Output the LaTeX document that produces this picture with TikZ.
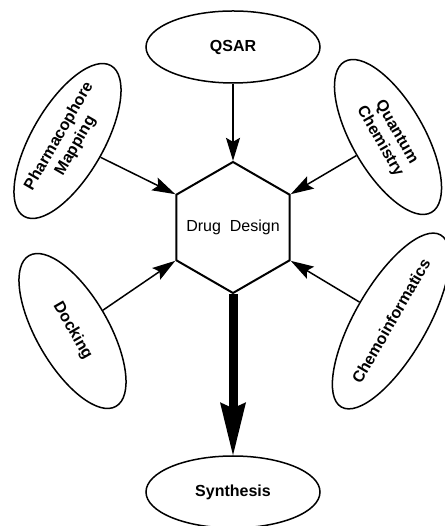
\documentclass[tikz,border=0pt]{standalone}
\usepackage{fontspec}
\setmainfont{Liberation Sans}
\usetikzlibrary{shapes.geometric,arrows.meta}
\begin{document}
\begin{tikzpicture}[x=1pt,y=1pt]
        \tikzstyle{blk} = [draw, black, line width=1.5pt, -{Stealth[length=23pt,width=14pt,inset=4pt]}]
        \tikzstyle{big} = [draw, black, line width=9pt, -{Stealth[length=53pt,width=26pt,inset=6pt,line width=0pt]}]
        \tikzstyle{oval} = [draw, ellipse, line width=1.5pt, minimum width=174pt, minimum height=72pt, inner sep=0pt, align=center, font=\fontsize{16pt}{19pt}\selectfont\bfseries]
        
        \useasboundingbox (0, 0) rectangle (444, 526);
        
        \node[draw, regular polygon, regular polygon sides=6, shape border rotate=30, minimum size=131pt, inner sep=0pt, line width=2pt, label={[font=\fontsize{16pt}{19pt}\selectfont, inner sep=0pt]center:Drug\ \ Design}] (design) at (233, 298.5) {};
        \node[oval] (qsar) at (233, 479) {QSAR};
        \node[oval, rotate=60] (pharma) at (67.5, 385) {Pharmacophore\\Mapping};
        \node[oval, rotate=-60] (quantum) at (388, 389) {Quantum\\Chemistry};
        \node[oval, rotate=-60] (docking) at (72.5, 195) {Docking};
        \node[oval, rotate=60] (chemo) at (391, 205) {Chemoinformatics};
        \node[oval] (synthesis) at (233, 34) {Synthesis};
        
        \path[blk] (qsar) to (design.90);
        \path[blk] (pharma) to (design.150);
        \path[blk] (quantum) to (design.30);
        \path[blk] (docking) to (design.210);
        \path[blk] (chemo) to (design.330);
        \path[big] (design.270) to (synthesis);
    \end{tikzpicture}
\end{document}
